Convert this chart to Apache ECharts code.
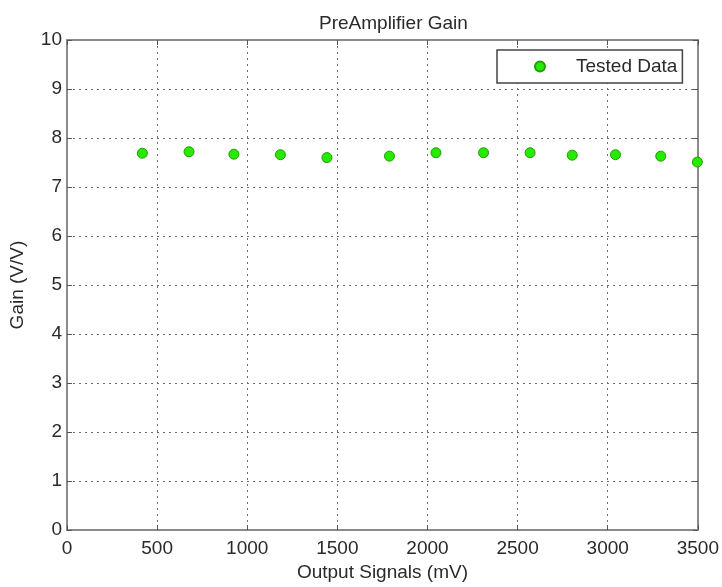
<!DOCTYPE html>
<html>
<head>
<meta charset="utf-8">
<script src="https://cdn.jsdelivr.net/npm/echarts@6/dist/echarts.min.js"></script>
<style>
html,body{margin:0;padding:0;background:#fff;}
#chart{width:722px;height:587px;}
</style>
</head>
<body>
<div id="chart"></div>
<script>
var outputSignals = [418, 677, 926, 1184, 1442, 1789, 2047, 2311, 2569, 2803, 3043, 3294, 3497];
var gainValues = [7.69, 7.72, 7.67, 7.66, 7.60, 7.63, 7.70, 7.70, 7.70, 7.65, 7.66, 7.63, 7.51];
var seriesName = 'Tested Data';
var chartTitle = 'PreAmplifier Gain';
var xName = 'Output Signals (mV)';
var yName = 'Gain (V/V)';

var points = outputSignals.map(function (x, i) { return [x, gainValues[i]]; });
var font = 'Liberation Sans, Arial, sans-serif';
var fs = 19;
var txt = '#2a2a2a';
var gridLine = { show: true, lineStyle: { color: '#6e6e6e', width: 1, type: [2, 4] } };
var boxLine = { show: true, onZero: false, lineStyle: { color: '#8a8a8a', width: 2 } };
var tick = { show: true, inside: true, length: 5, lineStyle: { color: '#555', width: 1 } };

var chart = echarts.init(document.getElementById('chart'));
chart.setOption({
  backgroundColor: '#fff',
  animation: false,
  title: {
    text: chartTitle,
    left: 314, top: 9,
    textStyle: { fontFamily: font, fontSize: fs, fontWeight: 'normal', color: txt }
  },
  legend: {
    data: [seriesName],
    left: 497, top: 50,
    orient: 'horizontal',
    backgroundColor: '#fff',
    borderColor: '#444', borderWidth: 1.5, borderRadius: 0,
    padding: [7, 5, 7, 37],
    itemWidth: 10, itemHeight: 10,
    textStyle: { fontFamily: font, fontSize: fs, color: txt, padding: [0, 0, 0, 26] }
  },
  grid: { left: 67, top: 40, right: 23, bottom: 54, containLabel: false },
  xAxis: [{
    type: 'value', min: 0, max: 3500, interval: 500, position: 'bottom',
    name: xName, nameLocation: 'middle', nameGap: 32,
    nameTextStyle: { fontFamily: font, fontSize: fs, color: txt },
    axisLine: boxLine, axisTick: tick, splitLine: gridLine,
    axisLabel: { fontFamily: font, fontSize: fs, color: txt, margin: 9,
      formatter: function (v) { return String(v); } }
  }, {
    type: 'value', min: 0, max: 3500, interval: 500, position: 'top',
    axisLine: boxLine, axisTick: tick, splitLine: { show: false }, axisLabel: { show: false }
  }],
  yAxis: [{
    type: 'value', min: 0, max: 10, interval: 1, position: 'left',
    name: yName, nameLocation: 'middle', nameGap: 40,
    nameTextStyle: { fontFamily: font, fontSize: fs, color: txt },
    axisLine: boxLine, axisTick: tick, splitLine: gridLine,
    axisLabel: { fontFamily: font, fontSize: fs, color: txt, margin: 5,
      formatter: function (v) { return String(v); } }
  }, {
    type: 'value', min: 0, max: 10, interval: 1, position: 'right',
    axisLine: boxLine, axisTick: tick, splitLine: { show: false }, axisLabel: { show: false }
  }],
  series: [{
    name: seriesName,
    type: 'scatter',
    data: points,
    symbol: 'circle',
    symbolSize: 10,
    itemStyle: { color: '#26ea00', borderColor: '#1f9f00', borderWidth: 1, opacity: 1 },
    z: 5
  }]
});
</script>
</body>
</html>
